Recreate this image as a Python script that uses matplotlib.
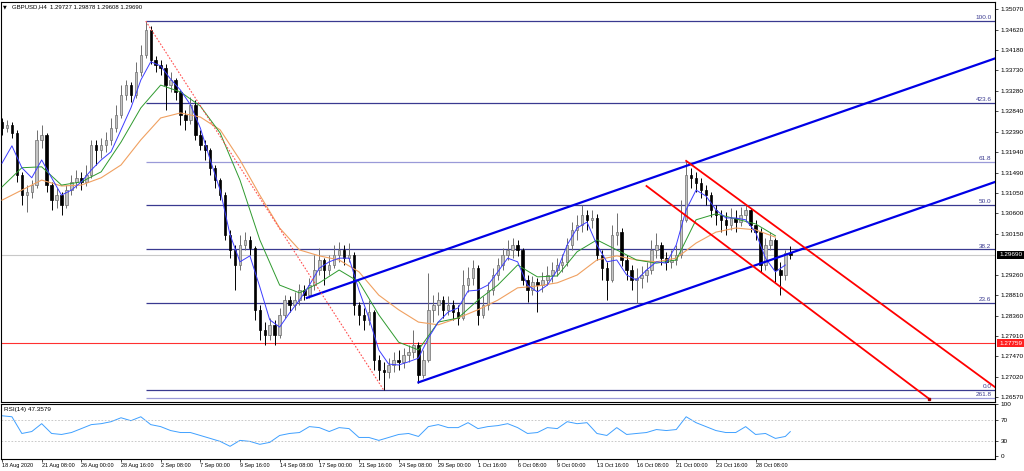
import numpy as np
import matplotlib.pyplot as plt
from matplotlib.transforms import blended_transform_factory

# GBPUSD H4, 18 Aug - 30 Oct 2020 (one candle here = two H4 bars)
first_open = 1.3260
closes = [1.3247, 1.3254, 1.3236, 1.3144, 1.3100, 1.3107, 1.3122, 1.3221, 1.3232, 1.3122,
          1.3089, 1.3100, 1.3079, 1.3111, 1.3129, 1.3138, 1.3129, 1.3144, 1.3210, 1.3199,
          1.3210, 1.3221, 1.3247, 1.3276, 1.3319, 1.3341, 1.3319, 1.3370, 1.3407, 1.3462,
          1.3396, 1.3385, 1.3379, 1.3341, 1.3352, 1.3326, 1.3276, 1.3265, 1.3298, 1.3232,
          1.3210, 1.3199, 1.3160, 1.3133, 1.3100, 1.3013, 1.2980, 1.2947, 1.2991, 1.3002,
          1.2984, 1.2849, 1.2805, 1.2794, 1.2816, 1.2794, 1.2838, 1.2870, 1.2860, 1.2870,
          1.2892, 1.2881, 1.2903, 1.2936, 1.2958, 1.2936, 1.2947, 1.2969, 1.2980, 1.2962,
          1.2969, 1.2860, 1.2838, 1.2827, 1.2844, 1.2739, 1.2717, 1.2713, 1.2728, 1.2739,
          1.2735, 1.2750, 1.2756, 1.2772, 1.2706, 1.2739, 1.2849, 1.2860, 1.2870, 1.2849,
          1.2860, 1.2844, 1.2831, 1.2903, 1.2919, 1.2940, 1.2838, 1.2860, 1.2892, 1.2925,
          1.2947, 1.2969, 1.2980, 1.2991, 1.2980, 1.2914, 1.2892, 1.2910, 1.2903, 1.2914,
          1.2925, 1.2936, 1.2947, 1.2954, 1.2991, 1.3024, 1.3035, 1.3057, 1.3046, 1.3050,
          1.2969, 1.2940, 1.2914, 1.3013, 1.3019, 1.2958, 1.2936, 1.2914, 1.2919, 1.2925,
          1.2936, 1.2980, 1.2991, 1.2962, 1.2954, 1.2958, 1.2969, 1.3046, 1.3144, 1.3138,
          1.3127, 1.3111, 1.3100, 1.3068, 1.3057, 1.3046, 1.3035, 1.3050, 1.3041, 1.3057,
          1.3068, 1.3035, 1.3019, 1.2947, 1.2991, 1.3002, 1.2936, 1.2925, 1.2973, 1.2969]
highs = [1.3269, 1.3265, 1.3260, 1.3243, 1.3151, 1.3122, 1.3133, 1.3243, 1.3254, 1.3236,
         1.3129, 1.3116, 1.3107, 1.3122, 1.3144, 1.3155, 1.3151, 1.3166, 1.3221, 1.3221,
         1.3225, 1.3238, 1.3269, 1.3298, 1.3341, 1.3352, 1.3348, 1.3392, 1.3429, 1.3481,
         1.3471, 1.3405, 1.3396, 1.3387, 1.3370, 1.3357, 1.3330, 1.3287, 1.3315, 1.3308,
         1.3243, 1.3221, 1.3203, 1.3166, 1.3138, 1.3107, 1.3024, 1.2991, 1.3013, 1.3019,
         1.3011, 1.2989, 1.2860, 1.2822, 1.2831, 1.2827, 1.2853, 1.2881, 1.2879, 1.2888,
         1.2906, 1.2903, 1.2919, 1.2969, 1.2984, 1.2962, 1.2969, 1.2991, 1.2997, 1.2991,
         1.2995, 1.2976, 1.2866, 1.2853, 1.2870, 1.2849, 1.2750, 1.2735, 1.2743, 1.2757,
         1.2761, 1.2765, 1.2772, 1.2805, 1.2778, 1.2761, 1.2930, 1.2881, 1.2888, 1.2879,
         1.2879, 1.2870, 1.2860, 1.2936, 1.2943, 1.2958, 1.2947, 1.2879, 1.2910, 1.2940,
         1.2962, 1.2984, 1.3002, 1.3006, 1.3002, 1.2984, 1.2925, 1.2923, 1.2919, 1.2932,
         1.2945, 1.2954, 1.2962, 1.2971, 1.3006, 1.3041, 1.3057, 1.3079, 1.3068, 1.3068,
         1.3059, 1.2980, 1.2954, 1.3035, 1.3061, 1.3028, 1.2969, 1.2947, 1.2940, 1.2945,
         1.2954, 1.3002, 1.3017, 1.2997, 1.2976, 1.2980, 1.2991, 1.3089, 1.3175, 1.3159,
         1.3151, 1.3138, 1.3122, 1.3107, 1.3079, 1.3068, 1.3063, 1.3072, 1.3068, 1.3074,
         1.3081, 1.3072, 1.3046, 1.3028, 1.3006, 1.3019, 1.3006, 1.2954, 1.2980, 1.2988]
lows = [1.3232, 1.3238, 1.3225, 1.3129, 1.3079, 1.3063, 1.3094, 1.3116, 1.3203, 1.3107,
        1.3068, 1.3072, 1.3057, 1.3072, 1.3100, 1.3116, 1.3111, 1.3120, 1.3138, 1.3166,
        1.3181, 1.3195, 1.3210, 1.3238, 1.3269, 1.3308, 1.3304, 1.3313, 1.3361, 1.3400,
        1.3387, 1.3370, 1.3363, 1.3287, 1.3326, 1.3308, 1.3254, 1.3243, 1.3256, 1.3221,
        1.3199, 1.3177, 1.3144, 1.3116, 1.3089, 1.3002, 1.2962, 1.2892, 1.2936, 1.2980,
        1.2969, 1.2827, 1.2783, 1.2772, 1.2783, 1.2772, 1.2787, 1.2831, 1.2844, 1.2849,
        1.2860, 1.2870, 1.2875, 1.2892, 1.2925, 1.2903, 1.2925, 1.2940, 1.2954, 1.2947,
        1.2954, 1.2838, 1.2816, 1.2805, 1.2816, 1.2717, 1.2695, 1.2673, 1.2700, 1.2713,
        1.2717, 1.2722, 1.2735, 1.2743, 1.2689, 1.2700, 1.2735, 1.2822, 1.2838, 1.2831,
        1.2838, 1.2827, 1.2816, 1.2827, 1.2888, 1.2903, 1.2816, 1.2831, 1.2849, 1.2881,
        1.2914, 1.2936, 1.2958, 1.2962, 1.2967, 1.2903, 1.2866, 1.2881, 1.2844, 1.2888,
        1.2903, 1.2910, 1.2923, 1.2932, 1.2945, 1.2980, 1.3002, 1.3019, 1.3024, 1.3028,
        1.2958, 1.2914, 1.2870, 1.2910, 1.2991, 1.2945, 1.2914, 1.2892, 1.2864, 1.2897,
        1.2910, 1.2927, 1.2962, 1.2947, 1.2936, 1.2940, 1.2947, 1.2962, 1.3041, 1.3116,
        1.3107, 1.3094, 1.3079, 1.3052, 1.3035, 1.3019, 1.3013, 1.3024, 1.3019, 1.3032,
        1.3041, 1.3019, 1.3002, 1.2932, 1.2936, 1.2980, 1.2910, 1.2881, 1.2914, 1.2961]

# moving averages (fast every 2 candles, others every 4)
ma_fast = [1.3170, 1.3208, 1.3160, 1.3138, 1.3177, 1.3138, 1.3100, 1.3111, 1.3129, 1.3155,
           1.3177, 1.3195, 1.3243, 1.3291, 1.3352, 1.3392, 1.3383, 1.3354, 1.3330, 1.3298,
           1.3247, 1.3177, 1.3111, 1.3013, 1.2954, 1.2967, 1.2899, 1.2827, 1.2811, 1.2842,
           1.2870, 1.2903, 1.2940, 1.2954, 1.2962, 1.2962, 1.2892, 1.2831, 1.2761, 1.2730,
           1.2728, 1.2735, 1.2743, 1.2787, 1.2822, 1.2844, 1.2853, 1.2890, 1.2892, 1.2903,
           1.2932, 1.2962, 1.2954, 1.2903, 1.2888, 1.2903, 1.2936, 1.2991, 1.3028, 1.3041,
           1.2991, 1.2954, 1.2958, 1.2925, 1.2914, 1.2936, 1.2954, 1.2951, 1.2991, 1.3068,
           1.3111, 1.3098, 1.3068, 1.3050, 1.3050, 1.3046, 1.3019, 1.2962, 1.2932, 1.2947]
ma_mid = [1.3118, 1.3160, 1.3162, 1.3122, 1.3129, 1.3151, 1.3216, 1.3291, 1.3341, 1.3326,
          1.3295, 1.3236, 1.3133, 1.3002, 1.2903, 1.2886, 1.2908, 1.2936, 1.2910, 1.2838,
          1.2778, 1.2761, 1.2822, 1.2831, 1.2870, 1.2903, 1.2947, 1.2921, 1.2923, 1.2976,
          1.3002, 1.2980, 1.2958, 1.2951, 1.2958, 1.3046, 1.3059, 1.3048, 1.3037, 1.3011]
ma_slow = [1.3089, 1.3111, 1.3133, 1.3120, 1.3122, 1.3138, 1.3166, 1.3221, 1.3269, 1.3280,
           1.3271, 1.3243, 1.3177, 1.3100, 1.3028, 1.2980, 1.2967, 1.2958, 1.2932, 1.2881,
           1.2849, 1.2822, 1.2816, 1.2831, 1.2849, 1.2870, 1.2897, 1.2901, 1.2908, 1.2925,
           1.2958, 1.2967, 1.2958, 1.2954, 1.2962, 1.2995, 1.3019, 1.3028, 1.3024, 1.3008]

rsi = [77.6, 75.7, 43.8, 47.5, 62.5, 43.8, 41.9, 45.6, 53.1, 60.7,
       62.5, 66.3, 73.8, 68.2, 75.7, 60.7, 56.9, 49.4, 45.6, 45.6,
       40.0, 34.4, 28.7, 19.3, 30.6, 28.7, 23.1, 26.8, 40.0, 43.8,
       45.6, 56.9, 55.0, 47.5, 55.0, 53.1, 36.2, 36.2, 30.6, 36.2,
       41.9, 43.8, 38.1, 56.9, 60.7, 55.0, 55.0, 64.4, 53.1, 56.9,
       58.8, 62.5, 55.0, 43.8, 45.6, 55.0, 53.1, 66.3, 62.5, 64.4,
       43.8, 40.0, 55.0, 41.9, 43.8, 45.6, 51.3, 49.4, 51.3, 75.7,
       64.4, 56.9, 49.4, 45.6, 45.6, 56.9, 41.9, 43.8, 34.4, 38.1, 47.3579]

date_labels = ['18 Aug 2020', '21 Aug 08:00', '26 Aug 00:00', '28 Aug 16:00', '2 Sep 08:00',
               '7 Sep 00:00', '9 Sep 16:00', '14 Sep 08:00', '17 Sep 00:00', '21 Sep 16:00',
               '24 Sep 08:00', '29 Sep 00:00', '1 Oct 16:00', '6 Oct 08:00', '9 Oct 00:00',
               '13 Oct 16:00', '16 Oct 08:00', '21 Oct 00:00', '23 Oct 16:00', '28 Oct 08:00']
price_ticks = [1.35070, 1.34620, 1.34180, 1.33730, 1.33280, 1.32840, 1.32390, 1.31940,
               1.31490, 1.31050, 1.30600, 1.30150, 1.29260, 1.28810, 1.28360, 1.27910,
               1.27470, 1.27020, 1.26570]

fib_names = ['100.0', '423.6', '61.8', '50.0', '38.2', '23.6', '0.0', '261.8']
fib_prices = [1.3481, 1.3302, 1.3173, 1.3079, 1.2981, 1.2864, 1.2674, 1.2656]
last_price = 1.29690
red_level = 1.27759

# trend lines: (candle index, price) anchors
channel_top = [(61.5, 1.2875), (138, 1.3164)]
channel_bot = [(84, 1.2690), (159, 1.2973)]
down_top = [(138, 1.3175), (159, 1.3008)]
down_bot = [(130, 1.3120), (187, 1.2654)]
fall_line = [(29, 1.3481), (77, 1.2673)]

plt.rcParams['font.family'] = ['Liberation Sans', 'DejaVu Sans']
fs = 4.6

fig = plt.figure(figsize=(10.24, 4.71), dpi=100)
ax = fig.add_axes([0.001, 0.1465, 0.9707, 0.8503])
axr = fig.add_axes([0.001, 0.0265, 0.9707, 0.1168], sharex=ax)

x = np.arange(len(closes))
c = np.array(closes)
o = np.r_[first_open, c[:-1]]
h = np.maximum(np.array(highs), np.maximum(o, c))
l = np.minimum(np.array(lows), np.minimum(o, c))
up = c >= o
xmin, xmax = -0.2, 200.3

# reference lines
ax.axhline(last_price, color='#c8c8c8', lw=0.8, zorder=1)
ax.axhline(red_level, color='#ff3030', lw=0.8, zorder=1)
for name, p in zip(fib_names, fib_prices):
    col = '#9a9ad8' if name in ('61.8', '261.8') else '#3a3a90'
    ax.hlines(p, 29, xmax, color=col, lw=0.9, zorder=1)
    ax.text(199.6, p + 0.0002, name, ha='right', va='bottom', fontsize=fs, color='#3a3a90')

# candles
ax.vlines(x[up], l[up], h[up], color='#6e6e6e', lw=0.7, zorder=3)
ax.vlines(x[~up], l[~up], h[~up], color='black', lw=0.7, zorder=3)
body = np.maximum(np.abs(c - o), 0.00006)
ax.bar(x[up], body[up], bottom=np.minimum(o, c)[up], width=0.5,
       color='#c4c4c4', edgecolor='#6e6e6e', lw=0.5, zorder=4)
ax.bar(x[~up], body[~up], bottom=np.minimum(o, c)[~up], width=0.5,
       color='black', edgecolor='black', lw=0.5, zorder=4)

# moving averages
ax.plot(np.arange(0, 160, 4), ma_slow, color='#f0a060', lw=0.8, zorder=5)
ax.plot(np.arange(0, 160, 4), ma_mid, color='#2e9a2e', lw=0.7, zorder=5)
ax.plot(np.arange(0, 160, 2), ma_fast, color='#3c3cff', lw=0.7, zorder=5)

def ray(pts, end=None):
    (x0, y0), (x1, y1) = pts
    if end is None:
        return [x0, x1], [y0, y1]
    k = (y1 - y0) / (x1 - x0)
    return [x0, end], [y0, y0 + k * (end - x0)]

xs, ys = ray(channel_top, xmax)
ax.plot(xs, ys, color='#0000e6', lw=1.6, zorder=6)
xs, ys = ray(channel_bot, xmax)
ax.plot(xs, ys, color='#0000e6', lw=1.6, zorder=6)
xs, ys = ray(down_top, xmax)
ax.plot(xs, ys, color='#ff0000', lw=1.3, zorder=6)
xs, ys = ray(down_bot)
ax.plot(xs, ys, color='#ff0000', lw=1.3, zorder=6)
ax.plot(xs[-1], ys[-1], 's', ms=1.5, color='#a00000', zorder=7)
xs, ys = ray(fall_line)
ax.plot(xs, ys, color='#ff5050', lw=0.8, ls=(0, (1.5, 1.5)), zorder=6)

ax.set_xlim(xmin, xmax)
ax.set_ylim(1.2647, 1.3524)
ax.yaxis.tick_right()
ax.set_yticks(price_ticks)
ax.set_yticklabels(['%.5f' % t for t in price_ticks])
ax.tick_params(axis='y', labelsize=fs, length=2.5, width=0.5, pad=1.5)
ax.tick_params(axis='x', bottom=False, labelbottom=False)

tr = blended_transform_factory(ax.transAxes, ax.transData)
ax.text(1.004, last_price, '%.5f' % last_price, transform=tr, fontsize=fs, color='white',
        ha='left', va='center', bbox=dict(boxstyle='square,pad=0.25', fc='black', ec='none'))
ax.text(1.004, red_level, '%.5f' % red_level, transform=tr, fontsize=fs, color='white',
        ha='left', va='center', bbox=dict(boxstyle='square,pad=0.25', fc='#ff2020', ec='none'))

# RSI pane
rsi_x = np.r_[np.arange(0, 160, 2), 159]
axr.plot(rsi_x, rsi, color='#3fa0ff', lw=0.7)
for lev in (70, 30):
    axr.axhline(lev, color='#c0c0c0', lw=0.6, ls=(0, (2, 2)))
axr.set_ylim(-4, 101)
axr.yaxis.tick_right()
axr.set_yticks([100, 70, 30, 0])
axr.set_yticklabels(['100', '70', '30', '0'])
axr.tick_params(axis='y', labelsize=fs, length=2.5, width=0.5, pad=1.5)
axr.set_xticks(np.arange(0, 160, 8))
axr.set_xticklabels(date_labels, ha='left')
axr.tick_params(axis='x', labelsize=4.0, length=2.5, width=0.5, pad=1)
axr.text(0.003, 0.93, 'RSI(14) %.4f' % rsi[-1], transform=axr.transAxes,
         fontsize=fs, va='top', ha='left')

for a in (ax, axr):
    for s in a.spines.values():
        s.set_linewidth(0.8)

fig.text(0.003, 0.985, '\u25bc', fontsize=3.5, va='center', family='DejaVu Sans')
fig.text(0.012, 0.985, 'GBPUSD,H4  1.29727 1.29878 1.29608 1.29690', fontsize=4.3, va='center')

fig.savefig('out.png', dpi=100, facecolor='white')
